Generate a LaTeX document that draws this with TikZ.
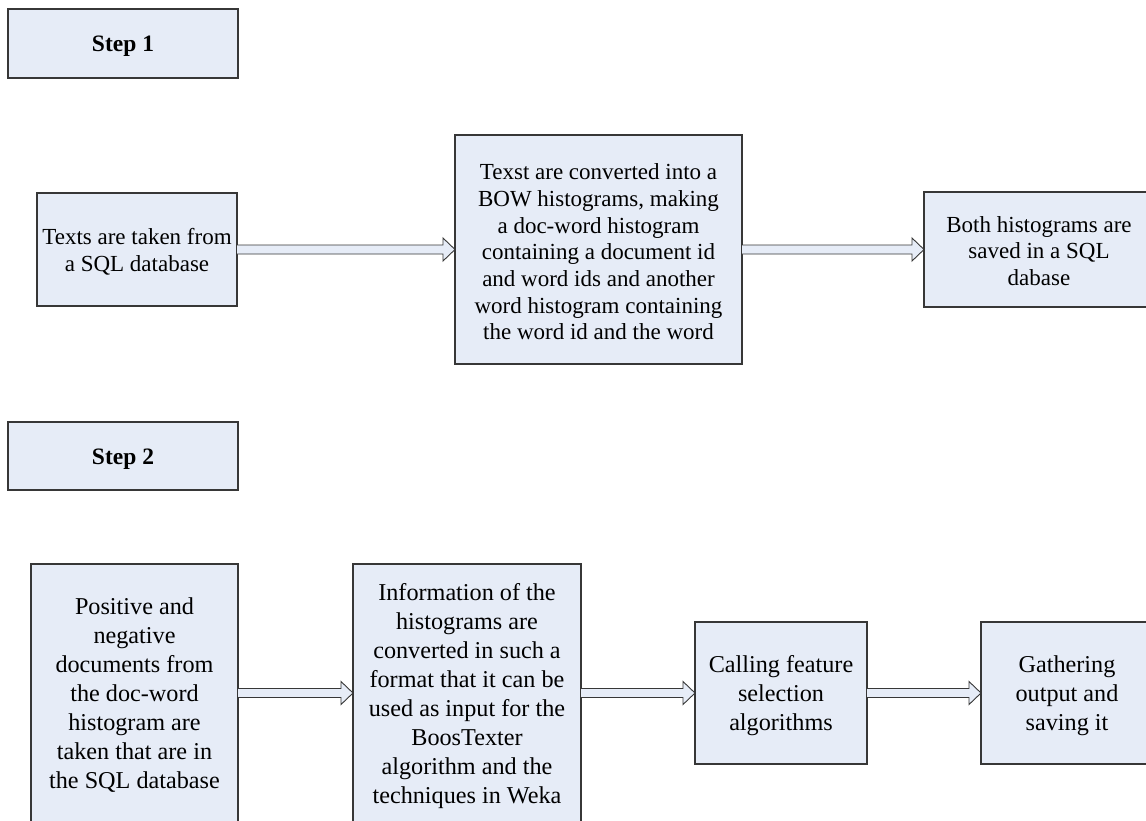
\documentclass[tikz,border=0pt]{standalone}
\usepackage{fontspec}
\setmainfont{Liberation Serif}
\usetikzlibrary{calc}
\definecolor{boxfill}{RGB}{230,236,247}
\definecolor{boxline}{RGB}{55,55,55}
\newcommand{\tx}[2][3pt]{\raisebox{-#1}[\height][\depth]{\begin{tabular}{@{}c@{}}#2\end{tabular}}}
\newcommand{\hollowarrow}[2]{%
  \draw[arr] ($(#1.east)+(0,-4.5)$) -- ($(#2.west)+(-12,-4.5)$) -- ($(#2.west)+(-12,-11.5)$) -- (#2.west) -- ($(#2.west)+(-12,11.5)$) -- ($(#2.west)+(-12,4.5)$) -- ($(#1.east)+(0,4.5)$);}
\begin{document}
\begin{tikzpicture}[x=1pt,y=-1pt,
  box/.style={draw=boxline, fill=boxfill, line width=1.1pt, inner sep=0pt, outer sep=0pt, font=\fontsize{23}{26.7}\selectfont},
  bigbox/.style={box, font=\fontsize{24.2}{29}\selectfont},
  stepbox/.style={box, font=\fontsize{23.5}{27}\selectfont\bfseries},
  arr/.style={draw=boxline, fill=boxfill, line width=0.9pt, line join=miter}]
\useasboundingbox (0,0) rectangle (1146,820);
\clip (0,0) rectangle (1146,820);
\fill[white] (0,0) rectangle (1146,820);

\node[stepbox, minimum width=230, minimum height=69] (s1) at (123,43.5) {\tx{Step 1}};
\node[stepbox, minimum width=230, minimum height=68] (s2) at (123,456) {\tx{Step 2}};

\node[box, minimum width=200, minimum height=113] (a) at (137,249.5) {\tx{Texts are taken from\\a SQL database}};
\node[box, minimum width=287, minimum height=229] (b) at (598.5,249.5) {\tx[5pt]{Texst are converted into a\\BOW histograms, making\\a doc-word histogram\\containing a document id\\and word ids and another\\word histogram containing\\the word id and the word}};
\node[box, minimum width=230, minimum height=115] (c) at (1039,249.5) {\tx[4pt]{Both histograms are\\saved in a SQL\\dabase}};

\node[bigbox, minimum width=207, minimum height=258] (d) at (134.5,693) {\tx{Positive and\\negative\\documents from\\the doc-word\\histogram are\\taken that are in\\the SQL database}};
\node[bigbox, minimum width=228, minimum height=258] (e) at (467,693) {\tx{Information of the\\histograms are\\converted in such a\\format that it can be\\used as input for the\\BoosTexter\\algorithm and the\\techniques in Weka}};
\node[bigbox, minimum width=172, minimum height=142] (f) at (781,693) {\tx{Calling feature\\selection\\algorithms}};
\node[bigbox, minimum width=172, minimum height=142] (g) at (1067,693) {\tx{Gathering\\output and\\saving it}};

\hollowarrow{a}{b}
\hollowarrow{b}{c}
\hollowarrow{d}{e}
\hollowarrow{e}{f}
\hollowarrow{f}{g}
\end{tikzpicture}
\end{document}
